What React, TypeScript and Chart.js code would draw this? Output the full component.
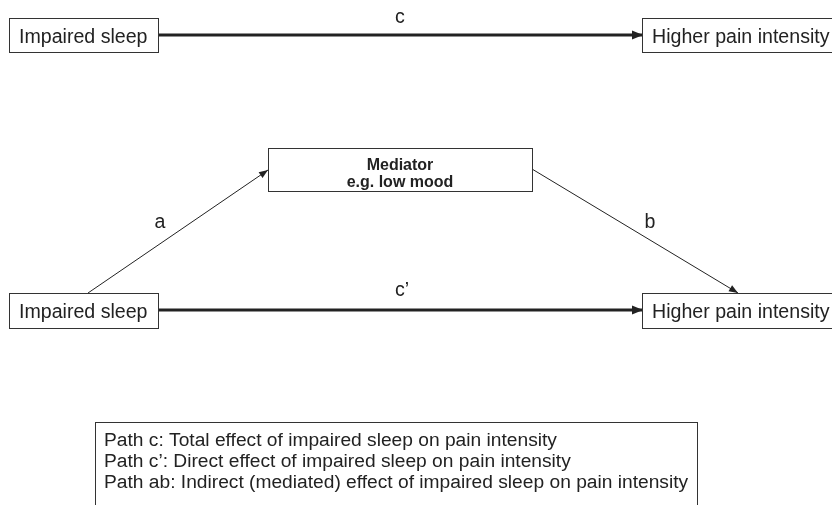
import React, { useEffect, useRef } from "react";
import { Chart, registerables } from "chart.js";

Chart.register(...registerables);

// Node boxes (diagram coordinates)
const boxLabels: string[][] = [
  ["Impaired sleep"],
  ["Higher pain intensity"],
  ["Mediator", "e.g. low mood"],
  ["Impaired sleep"],
  ["Higher pain intensity"],
];
const boxBold = [false, false, true, false, false];
const boxLeft = [9, 642, 268, 9, 642];
const boxRight = [158, 836, 532, 158, 836];
const boxTop = [18, 18, 148, 293, 293];
const boxBottom = [52, 52, 191, 328, 328];

// Paths (arrows)
const pathNames = ["c", "c'", "a", "b"];
const pathFromX = [158, 158, 88, 532];
const pathFromY = [35, 310, 293, 169];
const pathToX = [643, 643, 268, 738];
const pathToY = [35, 310, 170, 293];
const pathWeight = [3, 3, 1, 1];

// Path labels
const pathLabelText = ["c", "c\u2019", "a", "b"];
const pathLabelX = [400, 402, 160, 650];
const pathLabelY = [23, 296, 228, 228];

// Legend box
const legendLines = [
  "Path c: Total effect of impaired sleep on pain intensity",
  "Path c\u2019: Direct effect of impaired sleep on pain intensity",
  "Path ab: Indirect (mediated) effect of impaired sleep on pain intensity",
];
const legendBox = [95, 422, 697, 515];
const legendBaseY = [446, 467, 488];

const FONT = "'Liberation Sans', Arial, Helvetica, sans-serif";

const diagramPlugin = {
  id: "diagram",
  afterDatasetsDraw(chart: any) {
    const ctx = chart.ctx as CanvasRenderingContext2D;
    const xs = chart.scales.x;
    const ys = chart.scales.y;
    const px = (v: number) => xs.getPixelForValue(v);
    const py = (v: number) => ys.getPixelForValue(v);
    ctx.save();

    // arrowheads
    for (let i = 0; i < pathNames.length; i++) {
      const x0 = px(pathFromX[i]), y0 = py(pathFromY[i]);
      const x1 = px(pathToX[i]), y1 = py(pathToY[i]);
      const ang = Math.atan2(y1 - y0, x1 - x0);
      const len = pathWeight[i] > 1 ? 11 : 9;
      const hw = pathWeight[i] > 1 ? 4.5 : 3.5;
      ctx.fillStyle = "#222";
      ctx.beginPath();
      ctx.moveTo(x1, y1);
      ctx.lineTo(x1 - len * Math.cos(ang) + hw * Math.sin(ang), y1 - len * Math.sin(ang) - hw * Math.cos(ang));
      ctx.lineTo(x1 - len * Math.cos(ang) - hw * Math.sin(ang), y1 - len * Math.sin(ang) + hw * Math.cos(ang));
      ctx.closePath();
      ctx.fill();
    }

    // boxes
    for (let i = 0; i < boxLabels.length; i++) {
      const l = px(boxLeft[i]), r = px(boxRight[i]);
      const t = py(boxTop[i]), b = py(boxBottom[i]);
      ctx.fillStyle = "#fff";
      ctx.fillRect(l, t, r - l, b - t);
      ctx.strokeStyle = "#333";
      ctx.lineWidth = 1;
      ctx.strokeRect(Math.round(l) + 0.5, Math.round(t) + 0.5, Math.round(r - l), Math.round(b - t));
      ctx.fillStyle = "#222";
      ctx.textBaseline = "alphabetic";
      const lines = boxLabels[i];
      if (boxBold[i]) {
        ctx.font = "bold 16px " + FONT;
        ctx.textAlign = "center";
        ctx.fillText(lines[0], (l + r) / 2, t + 22);
        ctx.fillText(lines[1], (l + r) / 2, t + 38.5);
      } else {
        ctx.font = "19.6px " + FONT;
        ctx.textAlign = "left";
        ctx.fillText(lines[0], l + 10, t + 24.5);
      }
    }

    // path labels
    ctx.font = "19.6px " + FONT;
    ctx.textAlign = "center";
    ctx.textBaseline = "alphabetic";
    ctx.fillStyle = "#222";
    for (let i = 0; i < pathLabelText.length; i++) {
      ctx.fillText(pathLabelText[i], px(pathLabelX[i]), py(pathLabelY[i]));
    }

    // legend
    const ll = px(legendBox[0]), lt = py(legendBox[1]), lr = px(legendBox[2]), lb = py(legendBox[3]);
    ctx.strokeStyle = "#333";
    ctx.lineWidth = 1;
    ctx.strokeRect(Math.round(ll) + 0.5, Math.round(lt) + 0.5, Math.round(lr - ll), Math.round(lb - lt));
    ctx.font = "19.2px " + FONT;
    ctx.textAlign = "left";
    for (let i = 0; i < legendLines.length; i++) {
      ctx.fillText(legendLines[i], ll + 9, py(legendBaseY[i]));
    }
    ctx.restore();
  },
};

export default function App() {
  const ref = useRef<HTMLCanvasElement>(null);
  useEffect(() => {
    document.body.style.margin = "0";
    const datasets = pathNames.map((name, i) => ({
      label: name,
      data: [
        { x: pathFromX[i], y: pathFromY[i] },
        { x: pathToX[i], y: pathToY[i] },
      ],
      showLine: true,
      borderColor: "#222",
      backgroundColor: "#222",
      borderWidth: pathWeight[i],
      pointRadius: 0,
    }));
    const chart = new Chart(ref.current!, {
      type: "scatter",
      data: { datasets },
      options: {
        animation: false,
        responsive: true,
        maintainAspectRatio: false,
        layout: { padding: 0 },
        plugins: { legend: { display: false }, tooltip: { enabled: false } },
        scales: {
          x: { type: "linear", min: 0, max: 832, display: false },
          y: { type: "linear", min: 0, max: 505, reverse: true, display: false },
        },
      },
      plugins: [diagramPlugin],
    });
    return () => chart.destroy();
  }, []);
  return (
    <div style={{ width: 832, height: 505, position: "relative", background: "#fff" }}>
      <canvas ref={ref} />
    </div>
  );
}
